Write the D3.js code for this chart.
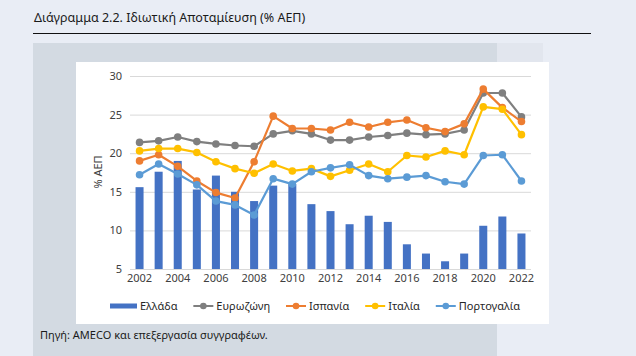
<!DOCTYPE html>
<html>
<head>
<meta charset="utf-8">
<script src="https://cdn.jsdelivr.net/npm/d3@7"></script>
<style>
  html, body { margin: 0; padding: 0; background: #e9edf5; }
  svg { display: block; font-family: "Noto Sans", "Open Sans", sans-serif; }
</style>
</head>
<body>
<svg id="chart" width="636" height="356"></svg>
<script>
const years = [2002,2003,2004,2005,2006,2007,2008,2009,2010,2011,2012,2013,2014,2015,2016,2017,2018,2019,2020,2021,2022];
const greece   = [15.6,17.6,19.0,15.3,17.1,15.0,13.8,15.8,16.0,13.4,12.5,10.8,11.9,11.1,8.2,7.0,6.0,7.0,10.6,11.8,9.6];
const eurozone = [21.4,21.6,22.1,21.5,21.2,21.0,20.9,22.5,22.9,22.5,21.7,21.7,22.1,22.3,22.6,22.4,22.5,23.0,27.8,27.8,24.7];
const spain    = [19.0,19.8,18.3,16.4,14.9,14.2,18.9,24.8,23.2,23.2,23.0,24.0,23.4,24.0,24.3,23.3,22.8,23.8,28.3,25.9,24.1];
const italy    = [20.3,20.6,20.6,20.1,18.9,18.0,17.4,18.6,17.7,18.0,17.0,17.8,18.6,17.6,19.7,19.5,20.3,19.8,26.0,25.7,22.4];
const portugal = [17.2,18.6,17.3,15.9,13.8,13.3,12.0,16.7,16.0,17.6,18.1,18.5,17.1,16.7,16.9,17.1,16.3,16.0,19.7,19.8,16.4];
const yTicks = [5,10,15,20,25,30];
const xTickYears = [2002,2004,2006,2008,2010,2012,2014,2016,2018,2020,2022];
const seriesNames = ["Ελλάδα","Ευρωζώνη","Ισπανία","Ιταλία","Πορτογαλία"];
const colors = {"Ελλάδα":"#4472c4","Ευρωζώνη":"#7f7f7f","Ισπανία":"#ed7d31","Ιταλία":"#ffc000","Πορτογαλία":"#5b9bd5"};
const lineSeries = [
  {name:"Ευρωζώνη", values: eurozone},
  {name:"Ισπανία", values: spain},
  {name:"Ιταλία", values: italy},
  {name:"Πορτογαλία", values: portugal}
];

const svg = d3.select("#chart");

// Background panels
svg.append("rect").attr("x",0).attr("y",0).attr("width",636).attr("height",356).attr("fill","#e9edf5");
svg.append("rect").attr("x",33).attr("y",43).attr("width",464).attr("height",313).attr("fill","#d3dae2");
svg.append("rect").attr("x",497).attr("y",43).attr("width",46).attr("height",19).attr("fill","#e2e6ee");
svg.append("rect").attr("x",76).attr("y",62).attr("width",473).attr("height",262).attr("fill","#ffffff");

// Title & rule
svg.append("text").attr("x",34).attr("y",22).attr("font-size",12.5).attr("fill","#1a1a1a")
  .text("Διάγραμμα 2.2. Ιδιωτική Αποταμίευση (% ΑΕΠ)");
svg.append("line").attr("x1",33).attr("x2",591).attr("y1",33.5).attr("y2",33.5)
  .attr("stroke","#111").attr("stroke-width",1.2);

// Source
svg.append("text").attr("x",40).attr("y",339).attr("font-size",11).attr("fill","#1a1a1a")
  .text("Πηγή: AMECO και επεξεργασία συγγραφέων.");

const x = d3.scaleBand().domain(years).range([130,531]).paddingInner(0.58).paddingOuter(0.29);
const y = d3.scaleLinear().domain([5,30]).range([269,76]);
const cx = d => x(d) + x.bandwidth()/2;

// Gridlines
svg.append("g").selectAll("line").data(yTicks).join("line")
  .attr("x1",130).attr("x2",531)
  .attr("y1",d=>y(d)+0.5).attr("y2",d=>y(d)+0.5)
  .attr("stroke","#d9d9d9").attr("stroke-width",1);

// Y axis labels
const yAxis = d3.axisLeft(y).tickValues(yTicks).tickSize(0).tickPadding(0).tickFormat(d3.format("d"));
const gy = svg.append("g").attr("transform","translate(122,0)").call(yAxis);
gy.select(".domain").remove();
gy.selectAll("text").attr("font-size",11).attr("fill","#404040").attr("font-family","Noto Sans, sans-serif");

// X axis labels
const xAxis = d3.axisBottom(x).tickValues(xTickYears).tickSize(0).tickPadding(0);
const gx = svg.append("g").attr("transform","translate(0,274)").call(xAxis);
gx.select(".domain").remove();
gx.selectAll("text").attr("font-size",11).attr("fill","#404040").attr("font-family","Noto Sans, sans-serif");

// Y axis title
svg.append("text").attr("transform","translate(102,172) rotate(-90)")
  .attr("text-anchor","middle").attr("font-size",11).attr("fill","#404040").text("% ΑΕΠ");

// Bars
svg.append("g").selectAll("rect").data(years).join("rect")
  .attr("x",d=>x(d)).attr("width",x.bandwidth())
  .attr("y",(d,i)=>y(greece[i])).attr("height",(d,i)=>y(5)-y(greece[i]))
  .attr("fill",colors["Ελλάδα"]);

// Lines
const line = d3.line().x((v,i)=>cx(years[i])).y(v=>y(v));
lineSeries.forEach(s=>{
  const g = svg.append("g");
  g.append("path").attr("d",line(s.values)).attr("fill","none")
    .attr("stroke",colors[s.name]).attr("stroke-width",2.2).attr("stroke-linejoin","round");
  g.selectAll("circle").data(s.values).join("circle")
    .attr("cx",(v,i)=>cx(years[i])).attr("cy",v=>y(v)).attr("r",3.8)
    .attr("fill",colors[s.name]);
});

// Legend: evenly spaced between x=110 and x=520
const ly = 306, lStart = 110, lEnd = 520;
const lg = svg.append("g");
const texts = seriesNames.map(n => lg.append("text").attr("y",ly+4).attr("font-size",11).attr("fill","#262626").text(n));
const widths = texts.map(t => t.node().getComputedTextLength());
const symW = seriesNames.map((n,i) => i===0 ? 27 : 20);
const symGap = 3;
const total = d3.sum(widths) + d3.sum(symW) + symGap*seriesNames.length;
const gap = (lEnd - lStart - total) / (seriesNames.length - 1);
let cur = lStart;
seriesNames.forEach((n,i)=>{
  if (i===0) {
    lg.append("rect").attr("x",cur).attr("y",ly-2.5).attr("width",symW[i]).attr("height",5).attr("fill",colors[n]);
  } else {
    lg.append("line").attr("x1",cur).attr("x2",cur+symW[i]).attr("y1",ly).attr("y2",ly)
      .attr("stroke",colors[n]).attr("stroke-width",2);
    lg.append("circle").attr("cx",cur+symW[i]/2).attr("cy",ly).attr("r",3.3).attr("fill",colors[n]);
  }
  cur += symW[i] + symGap;
  texts[i].attr("x",cur);
  cur += widths[i] + gap;
});
</script>
</body>
</html>
